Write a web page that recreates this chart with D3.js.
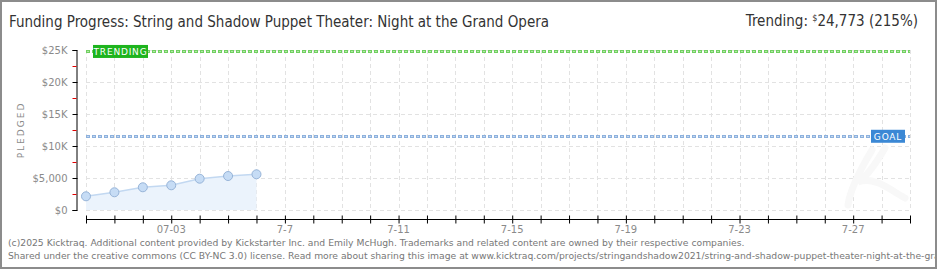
<!DOCTYPE html>
<html>
<head>
<meta charset="utf-8">
<script src="https://cdn.jsdelivr.net/npm/d3@7"></script>
<style>
  body { margin: 0; background: #fff; }
  svg text { font-family: "DejaVu Sans", sans-serif; }
</style>
</head>
<body>
<div id="chart"></div>
<script>
// pledged totals per day
var days = ["2021-06-30", "2021-07-01", "2021-07-02", "2021-07-03", "2021-07-04", "2021-07-05", "2021-07-06"];
var pledged = [2140, 2770, 3550, 3860, 4890, 5310, 5580];

var goal = 11520;
var trending = 24773;

var yTicks = [0, 5000, 10000, 15000, 20000, 25000];
var yMinor = [2500, 7500, 12500, 17500, 22500];
var xLabelDays = ["2021-07-03", "2021-07-07", "2021-07-11", "2021-07-15", "2021-07-19", "2021-07-23", "2021-07-27"];
var xLabels = ["07-03", "7-7", "7-11", "7-15", "7-19", "7-23", "7-27"];

var title = "Funding Progress: String and Shadow Puppet Theater: Night at the Grand Opera";
var footer1 = "(c)2025 Kicktraq. Additional content provided by Kickstarter Inc. and Emily McHugh. Trademarks and related content are owned by their respective companies.";
var footer2 = "Shared under the creative commons (CC BY-NC 3.0) license. Read more about sharing this image at www.kicktraq.com/projects/stringandshadow2021/string-and-shadow-puppet-theater-night-at-the-grand-opera/";

var parse = d3.timeParse("%Y-%m-%d");
var data = days.map(function(d, i) { return {date: parse(d), value: pledged[i]}; });

var W = 940, H = 270;
var svg = d3.select("#chart").append("svg").attr("width", W).attr("height", H);

// frame
svg.append("rect").attr("x", 1).attr("y", 1).attr("width", 935).attr("height", 267)
    .attr("fill", "#fff").attr("stroke", "#8c8c8c").attr("stroke-width", 2);

var x = d3.scaleTime().domain([parse("2021-06-30"), parse("2021-07-29")]).range([86, 910]);
var y = d3.scaleLinear().domain([0, 25000]).range([210, 50]);

var allDays = d3.timeDay.range(parse("2021-06-30"), d3.timeDay.offset(parse("2021-07-29"), 1));

// grid
var grid = svg.append("g").attr("stroke", "#e2e2e2").attr("stroke-dasharray", "4,3").attr("stroke-width", 1);
grid.selectAll("line.v").data(allDays).enter().append("line")
    .attr("x1", function(d) { return Math.round(x(d)) + 0.5; })
    .attr("x2", function(d) { return Math.round(x(d)) + 0.5; })
    .attr("y1", y(25000)).attr("y2", y(0));
grid.selectAll("line.h").data(yTicks).enter().append("line")
    .attr("x1", x.range()[0]).attr("x2", x.range()[1])
    .attr("y1", function(d) { return Math.round(y(d)) + 0.5; })
    .attr("y2", function(d) { return Math.round(y(d)) + 0.5; });

// watermark, barely visible
svg.append("path")
    .attr("d", "M872,150 C860,170 850,190 848,205 M885,148 C875,165 865,178 858,182 C875,176 890,190 905,198")
    .attr("fill", "none").attr("stroke", "#f8f8f8").attr("stroke-width", 7).attr("stroke-linecap", "round");

// area + line
var area = d3.area().x(function(d) { return x(d.date); }).y0(y(0)).y1(function(d) { return y(d.value); });
var line = d3.line().x(function(d) { return x(d.date); }).y(function(d) { return y(d.value); });
svg.append("path").datum(data).attr("d", area).attr("fill", "#ebf3fc");
svg.append("path").datum(data).attr("d", line).attr("fill", "none").attr("stroke", "#c2d8f1").attr("stroke-width", 1.5);

// goal + trending lines
function refLine(v, outer, inner) {
    var yy = Math.round(y(v)) + 0.5;
    svg.append("line").attr("x1", x.range()[0]).attr("x2", x.range()[1]).attr("y1", yy).attr("y2", yy)
        .attr("stroke", outer).attr("stroke-width", 3).attr("stroke-dasharray", "4,2");
    svg.append("line").attr("x1", x.range()[0] + 1).attr("x2", x.range()[1]).attr("y1", yy).attr("y2", yy)
        .attr("stroke", inner).attr("stroke-width", 1).attr("stroke-dasharray", "2,4");
}
refLine(trending, "#70cf60", "#b4e8a8");
refLine(goal, "#8db1dd", "#c3d7ef");

// dots
svg.selectAll("circle").data(data).enter().append("circle")
    .attr("cx", function(d) { return x(d.date); })
    .attr("cy", function(d) { return y(d.value); })
    .attr("r", 4.5)
    .attr("fill", "#c6dcf5").attr("stroke", "#97b4d8").attr("stroke-width", 1);

// labels on reference lines
function tag(label, x0, yc, w, color) {
    svg.append("rect").attr("x", x0).attr("y", yc - 6.5).attr("width", w).attr("height", 13).attr("fill", color);
    svg.append("text").attr("x", x0 + w / 2).attr("y", yc + 3.5).attr("text-anchor", "middle")
        .attr("fill", "#fff").attr("font-size", 9).attr("letter-spacing", 0.8).text(label);
}
tag("TRENDING", 93, y(trending), 55, "#1eb41e");
tag("GOAL", 871, y(goal), 34, "#3b88d5");

// y axis
var yAxis = d3.axisLeft(y).tickValues(yTicks).tickSize(4).tickPadding(5)
    .tickFormat(function(d) { return d >= 10000 ? "$" + d / 1000 + "K" : "$" + d3.format(",")(d); });
var gy = svg.append("g").attr("transform", "translate(76.5,0)").call(yAxis);
gy.select(".domain").attr("stroke", "#000");
gy.selectAll(".tick line").attr("stroke", "#000").attr("x2", -4).attr("x1", 1);
gy.selectAll(".tick text").attr("fill", "#8a8a8a").attr("font-size", 10);
gy.selectAll("line.minor").data(yMinor).enter().append("line").attr("class", "minor")
    .attr("x1", -4).attr("x2", 0)
    .attr("y1", function(d) { return Math.round(y(d)) + 0.5; })
    .attr("y2", function(d) { return Math.round(y(d)) + 0.5; })
    .attr("stroke", "#e00000");

svg.append("text").attr("transform", "translate(24,130) rotate(-90)").attr("text-anchor", "middle")
    .attr("fill", "#8a8a8a").attr("font-size", 9).attr("letter-spacing", 2).text("PLEDGED");

// x axis
var xAxis = d3.axisBottom(x).tickValues(allDays).tickSize(4).tickFormat("");
var gx = svg.append("g").attr("transform", "translate(0,219.5)").call(xAxis);
gx.select(".domain").attr("stroke", "#000").attr("d", "M" + x.range()[0] + ",0H" + x.range()[1]);
gx.selectAll(".tick line").attr("stroke", "#000").attr("y1", -4).attr("y2", 4);
gx.selectAll("text.lbl").data(xLabelDays).enter().append("text").attr("class", "lbl")
    .attr("x", function(d) { return x(parse(d)); }).attr("y", 13).attr("text-anchor", "middle")
    .attr("fill", "#8a8a8a").attr("font-size", 10)
    .text(function(d, i) { return xLabels[i]; });

// title
svg.append("text").attr("x", 9).attr("y", 27).attr("font-size", 16).attr("fill", "#333")
    .attr("font-stretch", "condensed").attr("textLength", 540).attr("lengthAdjust", "spacingAndGlyphs").text(title);

var tr = svg.append("text").attr("x", 918).attr("y", 26).attr("text-anchor", "end").attr("font-size", 15)
    .attr("fill", "#333").attr("font-stretch", "condensed");
tr.append("tspan").text("Trending:  ");
tr.append("tspan").attr("font-size", 9).attr("dy", -5).text("$");
tr.append("tspan").attr("dy", 5).text(d3.format(",")(trending) + " (" + Math.round(trending / goal * 100) + "%)");

// footer
var f1 = svg.append("text").attr("x", 8).attr("y", 246).attr("fill", "#777").attr("font-size", 10)
    .attr("font-family", "Liberation Sans, sans-serif").text(footer1);
var len = f1.node().getComputedTextLength();
var fs = 10 * 738 / len;
f1.attr("font-size", fs);
svg.append("text").attr("x", 8).attr("y", 259).attr("fill", "#777").attr("font-size", fs)
    .attr("font-family", "Liberation Sans, sans-serif").text(footer2);
// right frame edge over clipped footer
svg.append("rect").attr("x", 937).attr("y", 0).attr("width", 3).attr("height", H).attr("fill", "#fff");
svg.append("line").attr("x1", 936).attr("x2", 936).attr("y1", 0).attr("y2", 269).attr("stroke", "#8c8c8c").attr("stroke-width", 2);
</script>
</body>
</html>
